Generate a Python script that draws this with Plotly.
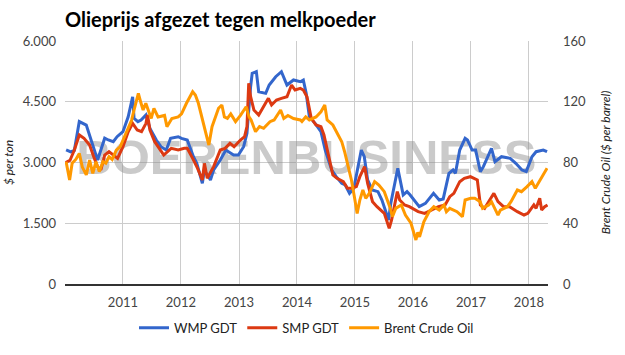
import plotly.graph_objects as go

# ---------------- data ----------------
wmp_dates = [
    "2010-01-08", "2010-02-06", "2010-03-01", "2010-04-01", "2010-05-15", "2010-06-05",
    "2010-07-25", "2010-08-01", "2010-09-08", "2010-10-01", "2010-11-01", "2010-11-25",
    "2011-01-01", "2011-02-03", "2011-03-03", "2011-03-12", "2011-04-05", "2011-04-25",
    "2011-05-26", "2011-06-20", "2011-07-30", "2011-08-28", "2011-10-01", "2011-10-28",
    "2011-12-15", "2012-01-05", "2012-02-10", "2012-03-20", "2012-04-10", "2012-05-15",
    "2012-05-28", "2012-07-05", "2012-07-25", "2012-09-05", "2012-10-10", "2012-11-28",
    "2012-12-28", "2013-01-30", "2013-02-20", "2013-03-15", "2013-03-25", "2013-04-20",
    "2013-05-05", "2013-06-18", "2013-07-10", "2013-08-20", "2013-09-25", "2013-10-30",
    "2013-12-10", "2014-01-22", "2014-02-10", "2014-02-28", "2014-03-20", "2014-04-25",
    "2014-06-01", "2014-06-28", "2014-08-08", "2014-09-05", "2014-10-10", "2014-11-01",
    "2014-11-28", "2014-12-25", "2015-01-20", "2015-02-10", "2015-03-01", "2015-03-22",
    "2015-04-20", "2015-05-26", "2015-06-20", "2015-07-10", "2015-08-01", "2015-08-15",
    "2015-09-20", "2015-09-28", "2015-11-01", "2015-11-25", "2015-12-15", "2016-02-10",
    "2016-03-20", "2016-05-10", "2016-06-15", "2016-07-10", "2016-08-15", "2016-09-10",
    "2016-09-25", "2016-10-22", "2016-11-25", "2016-12-10", "2017-01-08", "2017-01-30",
    "2017-03-01", "2017-03-20", "2017-05-10", "2017-06-01", "2017-07-12", "2017-09-05",
    "2017-10-10", "2017-11-18", "2017-12-15", "2018-01-20", "2018-02-15", "2018-04-01",
    "2018-04-25",
]
wmp_values = [
    3310, 3260, 3300, 4010, 3925, 3680,
    3060, 3140, 3600, 3556, 3514, 3637,
    3760, 4130, 4624, 4090, 4008, 4049,
    4173, 3843, 3555, 3390, 3308, 3597,
    3637, 3597, 3555, 3143, 2980, 2486,
    2815, 2568, 2815, 3062, 3308, 3185,
    3185, 3390, 3720, 4871, 5202, 5243,
    4748, 4707, 4913, 5118, 5243, 4913,
    5037, 4995, 5037, 4707, 4131, 3967,
    3760, 3308, 2815, 2650, 2486, 2445,
    2239, 2363, 2897, 3308, 3143, 2568,
    2321, 2280, 2074, 1827, 1580, 1992,
    2733, 2856, 2200, 2280, 2198, 1909,
    1992, 2239, 2074, 2100, 2733, 2815,
    2733, 3308, 3597, 3555, 3308, 3308,
    2774, 2897, 3349, 3020, 3143, 3102,
    2980, 2815, 2774, 3143, 3267, 3308,
    3267,
]

smp_dates = [
    "2010-01-05", "2010-02-01", "2010-03-01", "2010-04-01", "2010-05-01", "2010-06-05",
    "2010-07-01", "2010-07-25", "2010-08-15", "2010-09-08", "2010-10-05", "2010-10-30",
    "2010-11-28", "2011-01-01", "2011-02-03", "2011-03-03", "2011-04-01", "2011-04-28",
    "2011-05-26", "2011-06-05", "2011-06-20", "2011-07-20", "2011-08-25", "2011-09-15",
    "2011-11-01", "2011-12-15", "2012-01-22", "2012-02-10", "2012-03-15", "2012-04-15",
    "2012-05-15", "2012-05-28", "2012-06-15", "2012-07-25", "2012-09-05", "2012-10-05",
    "2012-11-05", "2012-12-01", "2013-01-10", "2013-02-05", "2013-02-20", "2013-03-03",
    "2013-03-15", "2013-04-05", "2013-05-05", "2013-07-05", "2013-07-25", "2013-08-25",
    "2013-09-25", "2013-10-30", "2013-11-28", "2013-12-20", "2014-01-22", "2014-02-10",
    "2014-03-05", "2014-04-01", "2014-05-01", "2014-06-01", "2014-06-20", "2014-07-15",
    "2014-08-15", "2014-09-10", "2014-10-20", "2014-11-15", "2014-12-10", "2015-01-10",
    "2015-02-01", "2015-03-03", "2015-03-22", "2015-04-22", "2015-05-20", "2015-07-05",
    "2015-08-05", "2015-08-20", "2015-09-25", "2015-10-10", "2015-11-10", "2015-12-10",
    "2016-01-15", "2016-02-03", "2016-03-15", "2016-05-01", "2016-06-10", "2016-07-22",
    "2016-08-20", "2016-09-15", "2016-10-22", "2016-11-20", "2016-12-28", "2017-02-10",
    "2017-03-01", "2017-03-28", "2017-05-25", "2017-06-20", "2017-07-25", "2017-09-01",
    "2017-10-20", "2017-12-01", "2017-12-25", "2018-02-01", "2018-02-15", "2018-03-10",
    "2018-03-22", "2018-04-10", "2018-04-28",
]
smp_values = [
    3000, 3050, 3308, 3680, 3597, 3432,
    3143, 2897, 2815, 3185, 3267, 3185,
    3102, 3390, 3760, 3967, 3802, 3761,
    3967, 4173, 3802, 3514, 3308, 3185,
    3349, 3308, 3349, 3349, 3102, 2856,
    2568, 2980, 2609, 2897, 3308, 3349,
    3473, 3390, 3555, 3637, 3884, 4955,
    4624, 4296, 4173, 4584, 4420, 4543,
    4584, 4624, 4913, 4790, 4831, 4790,
    4624, 4090, 3926, 3884, 3679, 3226,
    2691, 2609, 2527, 2363, 2363, 2403,
    2650, 2897, 2486, 2033, 1909, 1745,
    1375, 1580, 2280, 2074, 1951, 1909,
    1827, 1786, 1745, 1827, 1909, 1951,
    2156, 2239, 2527, 2609, 2650, 2568,
    1951, 1869, 2239, 2033, 1909, 1909,
    1786, 1704, 1745, 1951, 1869, 2116,
    1828, 1909, 1951,
]

brent_dates = [
    "2010-01-08", "2010-01-30", "2010-02-15", "2010-03-10", "2010-04-01", "2010-04-20",
    "2010-05-15", "2010-06-05", "2010-06-25", "2010-07-15", "2010-08-05", "2010-08-28",
    "2010-09-15", "2010-10-05", "2010-10-25", "2010-11-20", "2010-12-15", "2011-01-20",
    "2011-02-25", "2011-03-12", "2011-04-08", "2011-04-25", "2011-05-08", "2011-05-25",
    "2011-06-28", "2011-07-15", "2011-08-10", "2011-09-20", "2011-10-05", "2011-11-05",
    "2011-12-15", "2012-01-05", "2012-02-05", "2012-03-15", "2012-04-01", "2012-04-20",
    "2012-05-15", "2012-06-01", "2012-06-25", "2012-07-15", "2012-08-01", "2012-08-25",
    "2012-09-15", "2012-10-01", "2012-10-20", "2012-11-10", "2012-12-10", "2013-01-10",
    "2013-02-15", "2013-03-05", "2013-03-18", "2013-04-15", "2013-05-10", "2013-06-05",
    "2013-07-15", "2013-08-10", "2013-09-20", "2013-10-10", "2013-11-05", "2013-12-10",
    "2014-01-22", "2014-02-01", "2014-02-25", "2014-03-20", "2014-05-01", "2014-06-01",
    "2014-06-25", "2014-07-10", "2014-08-15", "2014-09-05", "2014-10-10", "2014-10-28",
    "2014-11-15", "2014-12-10", "2015-01-01", "2015-01-15", "2015-02-01", "2015-02-20",
    "2015-03-10", "2015-04-01", "2015-05-05", "2015-06-01", "2015-07-05", "2015-08-08",
    "2015-08-25", "2015-09-15", "2015-10-20", "2015-11-15", "2015-12-20", "2016-01-20",
    "2016-02-01", "2016-02-12", "2016-03-10", "2016-04-12", "2016-05-12", "2016-06-15",
    "2016-07-15", "2016-07-30", "2016-08-20", "2016-10-05", "2016-11-08", "2016-11-25",
    "2016-12-30", "2017-01-25", "2017-02-28", "2017-03-15", "2017-04-22", "2017-05-10",
    "2017-06-20", "2017-07-05", "2017-08-18", "2017-09-10", "2017-10-20", "2017-11-15",
    "2017-12-20", "2018-01-20", "2018-02-10", "2018-03-15", "2018-04-01", "2018-04-25",
]
brent_values = [
    80.5, 68.5, 79.5, 82.0, 86.0, 77.0,
    71.8, 81.6, 72.9, 80.5, 74.0, 80.5,
    79.5, 83.8, 82.0, 88.2, 90.4, 99.2,
    108.0, 114.6, 125.5, 119.0, 114.6, 119.0,
    109.0, 115.7, 110.0, 111.0, 103.6, 109.0,
    110.0, 112.0, 119.0, 126.6, 124.4, 119.0,
    109.0, 101.4, 91.5, 103.6, 109.0, 115.7,
    117.9, 110.0, 109.0, 112.0, 106.9, 111.0,
    116.7, 110.0, 108.0, 100.3, 103.6, 102.5,
    106.9, 108.0, 114.6, 109.0, 111.0, 109.0,
    108.0, 107.0, 110.0, 108.0, 110.0, 113.4,
    117.9, 108.0, 104.7, 100.3, 93.7, 87.1,
    79.5, 68.5, 55.3, 46.5, 55.3, 61.9,
    56.4, 59.7, 67.4, 65.2, 60.8, 50.9,
    44.3, 49.8, 52.0, 45.4, 40.0, 29.0,
    34.0, 31.0, 41.0, 47.6, 50.9, 48.7,
    52.0, 47.6, 49.8, 47.6, 44.3, 55.3,
    56.4, 56.4, 54.2, 49.8, 52.0, 54.2,
    45.4, 48.7, 50.9, 54.2, 61.9, 60.8,
    64.1, 67.4, 63.0, 68.5, 71.8, 76.2,
]

year_ticks = ["2011-01-01", "2012-01-01", "2013-01-01", "2014-01-01",
              "2015-01-01", "2016-01-01", "2017-01-01", "2018-01-01"]
year_labels = ["2011", "2012", "2013", "2014", "2015", "2016", "2017", "2018"]

title_text = "Olieprijs afgezet tegen melkpoeder"
watermark_text = "BOERENBUSINESS"

FONT = "Lato, 'Open Sans', sans-serif"

fig = go.Figure()

# watermark as a text trace, drawn first so the lines sit on top of it
fig.add_trace(go.Scatter(
    x=["2014-03-01"], y=[3030], mode="text", text=[watermark_text],
    textfont=dict(family="'Liberation Sans', Arial, sans-serif", size=49,
                  color="rgba(140,140,140,0.46)", weight="bold"),
    textposition="middle center", hoverinfo="skip", showlegend=False,
))

fig.add_trace(go.Scatter(x=wmp_dates, y=wmp_values, name="WMP GDT", mode="lines",
                         line=dict(color="#3366cc", width=3)))
fig.add_trace(go.Scatter(x=smp_dates, y=smp_values, name="SMP GDT", mode="lines",
                         line=dict(color="#dc3912", width=3)))
fig.add_trace(go.Scatter(x=brent_dates, y=brent_values, name="Brent Crude Oil", mode="lines",
                         line=dict(color="#ff9900", width=3), yaxis="y2"))

fig.update_layout(
    width=625, height=355,
    margin=dict(l=65, r=77, t=41, b=71, autoexpand=False),
    paper_bgcolor="white", plot_bgcolor="white",
    separators=",.",
    font=dict(family=FONT, size=13, color="#444444"),
    title=dict(text="<b>" + title_text + "</b>", x=0, xref="paper", xanchor="left",
               y=1 - 20 / 355, yref="container", yanchor="middle",
               font=dict(family=FONT, size=20, color="#000000")),
    xaxis=dict(
        type="date", range=["2010-01-01", "2018-05-01"],
        tickvals=year_ticks, ticktext=year_labels,
        showgrid=True, gridcolor="#cccccc", gridwidth=1,
        showline=True, linecolor="#333333", linewidth=1.5,
        ticks="", tickfont=dict(size=13, color="#444444"), ticklabelstandoff=6,
        zeroline=False,
    ),
    yaxis=dict(
        range=[0, 6000], tickvals=[0, 1500, 3000, 4500, 6000], tickformat=",",
        showgrid=True, gridcolor="#cccccc", gridwidth=1, zeroline=False,
        ticks="", ticklabelstandoff=8, tickfont=dict(size=13, color="#444444"),
        title=dict(text="<i>$ per ton</i>", standoff=6, font=dict(size=12, color="#222222")),
    ),
    yaxis2=dict(
        range=[0, 160], tickvals=[0, 40, 80, 120, 160], overlaying="y", side="right",
        showgrid=False, zeroline=False, ticks="", ticklabelstandoff=14,
        tickfont=dict(size=13, color="#444444"),
        title=dict(text="<i>Brent Crude Oil ($ per barrel)</i>", standoff=16,
                   font=dict(size=12, color="#222222")),
    ),
    legend=dict(orientation="h", x=0.5, xanchor="center", y=-0.18, yanchor="middle",
                font=dict(size=13, color="#222222"), itemwidth=30),
    showlegend=True,
)

fig.write_html("out.html", config={"displayModeBar": False},
               post_script="document.body.style.margin='0';document.body.style.overflow='hidden';")
